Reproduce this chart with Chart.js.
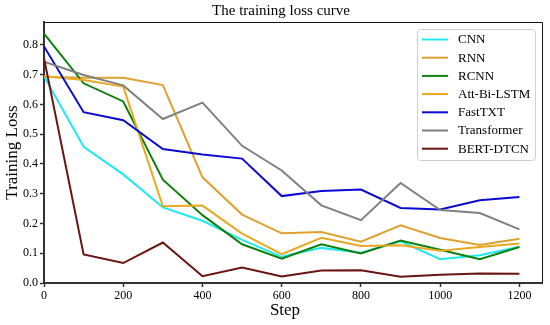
<!DOCTYPE html>
<html>
<head>
<meta charset="utf-8">
<script src="https://cdn.jsdelivr.net/npm/chart.js@4.4.1/dist/chart.umd.min.js"></script>
<style>
html,body{margin:0;padding:0;background:#fff;}
#wrap{width:550px;height:325px;position:relative;}
</style>
</head>
<body>
<div id="wrap"><canvas id="c" width="550" height="325"></canvas></div>
<script>
const title = "The training loss curve";
const xLabel = "Step";
const yLabel = "Training Loss";
const steps = [0,100,200,300,400,500,600,700,800,900,1000,1100,1200];
const seriesNames = ["CNN","RNN","RCNN","Att-Bi-LSTM","FastTXT","Transformer","BERT-DTCN"];
const cnn   = [0.695,0.458,0.365,0.254,0.209,0.145,0.088,0.118,0.102,0.140,0.080,0.093,0.122];
const rnn   = [0.693,0.690,0.690,0.665,0.355,0.230,0.167,0.171,0.139,0.194,0.151,0.128,0.149];
const rcnn  = [0.838,0.671,0.610,0.347,0.228,0.130,0.082,0.130,0.099,0.143,0.112,0.080,0.121];
const att   = [0.695,0.682,0.660,0.258,0.260,0.166,0.097,0.152,0.124,0.127,0.108,0.121,0.133];
const fast  = [0.795,0.574,0.547,0.450,0.432,0.418,0.292,0.309,0.314,0.252,0.247,0.278,0.289];
const trans = [0.744,0.699,0.664,0.551,0.606,0.461,0.378,0.261,0.211,0.336,0.245,0.235,0.180];
const bert  = [0.755,0.096,0.067,0.136,0.023,0.052,0.022,0.042,0.043,0.021,0.028,0.032,0.031];
const xTicks = [0,200,400,600,800,1000,1200];
const yTicks = [0.0,0.1,0.2,0.3,0.4,0.5,0.6,0.7,0.8];

const colors = ["#1ee8f0","#e0a030","#0e800e","#e8a820","#0a0ad0","#808080","#6a1410"];
const allSeries = [cnn,rnn,rcnn,att,fast,trans,bert];

const FONT = "'Liberation Serif','Times New Roman',serif";

const datasets = allSeries.map((s,i)=>({
  label: seriesNames[i],
  data: s.map((v,j)=>({x:steps[j],y:v})),
  borderColor: colors[i],
  backgroundColor: colors[i],
  borderWidth: 2,
  pointRadius: 0,
  tension: 0,
  fill: false,
  order: allSeries.length - i
}));

const extras = {
  id:'extras',
  afterDraw(chart){
    const ctx = chart.ctx;
    const a = chart.chartArea;
    ctx.save();
    // frame top & right
    ctx.strokeStyle = '#111';
    ctx.lineWidth = 1;
    ctx.beginPath();
    ctx.moveTo(a.left, a.top+0.5);
    ctx.lineTo(a.right+0.5, a.top+0.5);
    ctx.lineTo(a.right+0.5, a.bottom);
    ctx.stroke();
    // title
    ctx.fillStyle = '#000';
    ctx.font = "15px " + FONT;
    ctx.textAlign = 'center';
    ctx.textBaseline = 'middle';
    ctx.fillText(title, 281, 11);
    // x label
    ctx.font = "17px " + FONT;
    ctx.fillText(xLabel, 285, 311);
    // legend
    const bx=417, by=29, bw=118, bh=131, r=3;
    ctx.fillStyle='rgba(255,255,255,0.85)';
    ctx.strokeStyle='#d0d0d0';
    ctx.lineWidth=1;
    ctx.beginPath();
    ctx.moveTo(bx+r+0.5,by+0.5);
    ctx.arcTo(bx+bw+0.5,by+0.5,bx+bw+0.5,by+bh+0.5,r);
    ctx.arcTo(bx+bw+0.5,by+bh+0.5,bx+0.5,by+bh+0.5,r);
    ctx.arcTo(bx+0.5,by+bh+0.5,bx+0.5,by+0.5,r);
    ctx.arcTo(bx+0.5,by+0.5,bx+bw+0.5,by+0.5,r);
    ctx.closePath();
    ctx.fill(); ctx.stroke();
    ctx.font = "13px " + FONT;
    ctx.textAlign='left';
    chart.data.datasets.forEach((ds,i)=>{
      const y = 39.5 + i*18.2;
      ctx.strokeStyle = ds.borderColor;
      ctx.lineWidth = 2;
      ctx.beginPath();
      ctx.moveTo(422,y); ctx.lineTo(448,y);
      ctx.stroke();
      ctx.fillStyle='#000';
      ctx.fillText(ds.label, 458, y+0.5);
    });
    ctx.restore();
  }
};

new Chart(document.getElementById('c'), {
  type:'line',
  data:{datasets},
  plugins:[extras],
  options:{
    responsive:false,
    animation:false,
    layout:{padding:{top:22,right:8,left:0,bottom:0}},
    plugins:{legend:{display:false},title:{display:false},tooltip:{enabled:false}},
    scales:{
      x:{
        type:'linear', min:0, max:1257,
        afterBuildTicks(s){ s.ticks = xTicks.map(v=>({value:v})); },
        afterFit(s){ s.height = 42; },
        ticks:{font:{family:FONT,size:12},color:'#000',padding:2,maxRotation:0,
          callback:v=>String(v)},
        grid:{display:true,drawOnChartArea:false,drawTicks:true,tickLength:4,color:'#333',tickWidth:1.5},
        border:{display:true,color:'#333',width:2},
        title:{display:false}
      },
      y:{
        type:'linear', min:0, max:0.877,
        afterBuildTicks(s){ s.ticks = yTicks.map(v=>({value:v})); },
        afterFit(s){ s.width = 44; },
        ticks:{font:{family:FONT,size:12},color:'#000',padding:2,
          callback:v=>Number(v).toFixed(1)},
        grid:{display:true,drawOnChartArea:false,drawTicks:true,tickLength:4,color:'#333',tickWidth:1.5},
        border:{display:true,color:'#333',width:2},
        title:{display:true,text:yLabel,font:{family:FONT,size:17},color:'#000',padding:{top:2,bottom:0}}
      }
    }
  }
});
</script>
</body>
</html>
